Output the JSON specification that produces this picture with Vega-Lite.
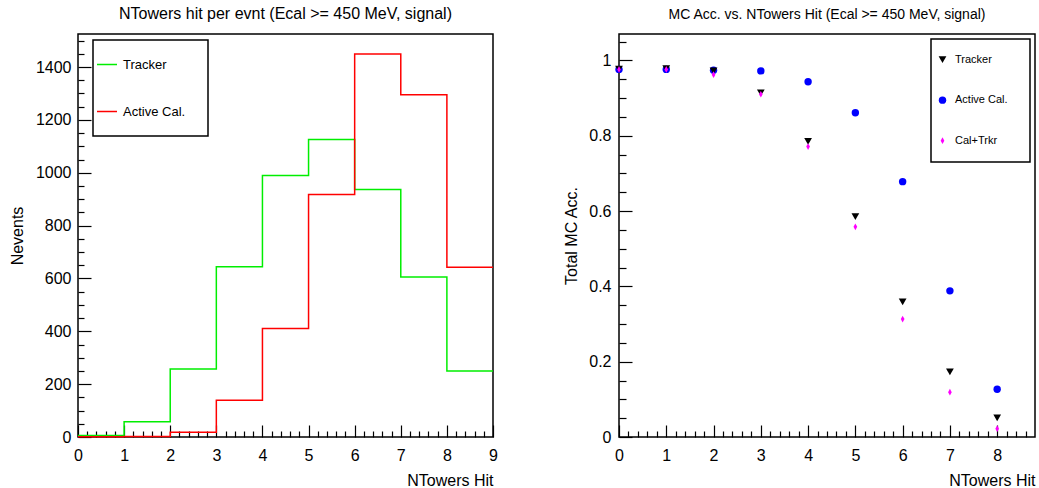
{
  "$schema": "https://vega.github.io/schema/vega-lite/v6.json",
  "padding": {"left": 8, "top": 5, "right": 2, "bottom": 2},
  "spacing": 64,
  "background": "white",
  "config": {
    "font": "Liberation Sans",
    "view": {"stroke": "black", "strokeWidth": 1.5},
    "axis": {"grid": false, "domain": false, "ticks": true, "tickColor": "#000000", "tickWidth": 1.2, "tickOpacity": 1, "labelColor": "black", "labelFontSize": 16, "labelFont": "Liberation Sans", "titleFont": "Liberation Sans", "titleFontSize": 16, "titleFontWeight": "normal", "titleColor": "black", "labelFlush": false, "labelOverlap": false, "zindex": 1},
    "legend": {"strokeColor": "black", "strokeWidth": 1.5, "fillColor": "white", "labelColor": "black", "labelFont": "Liberation Sans"},
    "title": {"font": "Liberation Sans", "fontWeight": "normal", "color": "black", "anchor": "middle", "frame": "group"}
  },
  "resolve": {"scale": {"color": "independent", "shape": "independent", "size": "independent"}, "legend": {"color": "independent"}},
  "hconcat": [
    {
      "width": 415,
      "height": 403,
      "title": {"text": "NTowers hit per evnt (Ecal >= 450 MeV, signal)", "fontSize": 16, "offset": 12},
      "data": {"values": [
        {"series": "Tracker", "bin": 0, "count": 6},
        {"series": "Tracker", "bin": 1, "count": 58},
        {"series": "Tracker", "bin": 2, "count": 257},
        {"series": "Tracker", "bin": 3, "count": 644},
        {"series": "Tracker", "bin": 4, "count": 990},
        {"series": "Tracker", "bin": 5, "count": 1126},
        {"series": "Tracker", "bin": 6, "count": 937},
        {"series": "Tracker", "bin": 7, "count": 605},
        {"series": "Tracker", "bin": 8, "count": 250},
        {"series": "Tracker", "bin": 9, "count": 250},
        {"series": "Active Cal.", "bin": 0, "count": 1},
        {"series": "Active Cal.", "bin": 1, "count": 2},
        {"series": "Active Cal.", "bin": 2, "count": 18},
        {"series": "Active Cal.", "bin": 3, "count": 139},
        {"series": "Active Cal.", "bin": 4, "count": 411},
        {"series": "Active Cal.", "bin": 5, "count": 918},
        {"series": "Active Cal.", "bin": 6, "count": 1449},
        {"series": "Active Cal.", "bin": 7, "count": 1295},
        {"series": "Active Cal.", "bin": 8, "count": 642},
        {"series": "Active Cal.", "bin": 9, "count": 642}
      ]},
      "resolve": {"axis": {"x": "independent", "y": "independent"}},
      "layer": [
        {
          "mark": {"type": "line", "interpolate": "step-after", "strokeWidth": 1.5},
          "encoding": {
            "x": {"field": "bin", "type": "quantitative", "scale": {"domain": [0, 9], "nice": false, "zero": false},
              "axis": {"orient": "bottom", "title": "NTowers Hit", "titleAnchor": "end", "titlePadding": 9, "ticks": true,
                "values": [0,1,2,3,4,5,6,7,8,9], "format": "d", "offset": -12, "tickSize": 12, "labelPadding": 10}},
            "y": {"field": "count", "type": "quantitative", "scale": {"domain": [0, 1525], "nice": false},
              "axis": {"orient": "left", "title": "Nevents", "titlePadding": 10, "ticks": true,
                "values": [0,200,400,600,800,1000,1200,1400], "format": "d", "offset": -13, "tickSize": 13, "labelPadding": 7}},
            "color": {"field": "series", "type": "nominal",
              "scale": {"domain": ["Tracker", "Active Cal."], "range": ["#00ee00", "#ff0000"]},
              "legend": {"title": null, "orient": "none", "legendX": 15, "legendY": 6, "padding": 1, "clipHeight": 47, "rowPadding": 0,
                "symbolType": "stroke", "symbolSize": 400, "symbolStrokeWidth": 1.5, "symbolOffset": 2, "labelOffset": 5, "labelFontSize": 13,
                "labelExpr": "datum.label + '\u00a0\u00a0\u00a0\u00a0\u00a0\u00a0\u200b'"}}
          }
        },
        {
          "mark": {"type": "point", "opacity": 0},
          "encoding": {
            "x": {"field": "bin", "type": "quantitative", "scale": {"domain": [0, 9], "nice": false, "zero": false},
              "axis": {"orient": "bottom", "title": null, "labels": false, "ticks": true, "offset": -6, "tickSize": 6,
                "values": [0.2,0.4,0.6,0.8,1.2,1.4,1.6,1.8,2.2,2.4,2.6,2.8,3.2,3.4,3.6,3.8,4.2,4.4,4.6,4.8,5.2,5.4,5.6,5.8,6.2,6.4,6.6,6.8,7.2,7.4,7.6,7.8,8.2,8.4,8.6,8.8]}},
            "y": {"field": "count", "type": "quantitative", "scale": {"domain": [0, 1525], "nice": false},
              "axis": {"orient": "left", "title": null, "labels": false, "ticks": true, "offset": -6, "tickSize": 6,
                "values": [50,100,150,250,300,350,450,500,550,650,700,750,850,900,950,1050,1100,1150,1250,1300,1350,1450,1500]}}
          }
        }
      ]
    },
    {
      "width": 416,
      "height": 403,
      "title": {"text": "MC Acc. vs. NTowers Hit (Ecal >= 450 MeV, signal)", "fontSize": 14, "offset": 12},
      "data": {"values": [
        {"series": "Active Cal.", "n": 0, "acc": 0.976},
        {"series": "Active Cal.", "n": 1, "acc": 0.976},
        {"series": "Active Cal.", "n": 2, "acc": 0.974},
        {"series": "Active Cal.", "n": 3, "acc": 0.972},
        {"series": "Active Cal.", "n": 4, "acc": 0.943},
        {"series": "Active Cal.", "n": 5, "acc": 0.861},
        {"series": "Active Cal.", "n": 6, "acc": 0.678},
        {"series": "Active Cal.", "n": 7, "acc": 0.388},
        {"series": "Active Cal.", "n": 8, "acc": 0.127},
        {"series": "Tracker", "n": 0, "acc": 0.977},
        {"series": "Tracker", "n": 1, "acc": 0.978},
        {"series": "Tracker", "n": 2, "acc": 0.972},
        {"series": "Tracker", "n": 3, "acc": 0.914},
        {"series": "Tracker", "n": 4, "acc": 0.785},
        {"series": "Tracker", "n": 5, "acc": 0.585},
        {"series": "Tracker", "n": 6, "acc": 0.359},
        {"series": "Tracker", "n": 7, "acc": 0.173},
        {"series": "Tracker", "n": 8, "acc": 0.051},
        {"series": "Cal+Trkr", "n": 0, "acc": 0.976},
        {"series": "Cal+Trkr", "n": 1, "acc": 0.976},
        {"series": "Cal+Trkr", "n": 2, "acc": 0.962},
        {"series": "Cal+Trkr", "n": 3, "acc": 0.910},
        {"series": "Cal+Trkr", "n": 4, "acc": 0.771},
        {"series": "Cal+Trkr", "n": 5, "acc": 0.558},
        {"series": "Cal+Trkr", "n": 6, "acc": 0.313},
        {"series": "Cal+Trkr", "n": 7, "acc": 0.119},
        {"series": "Cal+Trkr", "n": 8, "acc": 0.022}
      ]},
      "resolve": {"axis": {"x": "independent", "y": "independent"}},
      "layer": [
        {
          "mark": {"type": "point", "filled": true, "opacity": 1, "strokeWidth": 0},
          "encoding": {
            "x": {"field": "n", "type": "quantitative", "scale": {"domain": [0, 8.8], "nice": false, "zero": false},
              "axis": {"orient": "bottom", "title": "NTowers Hit", "titleAnchor": "end", "titlePadding": 9, "ticks": true,
                "values": [0,1,2,3,4,5,6,7,8], "format": "d", "offset": -12, "tickSize": 12, "labelPadding": 10}},
            "y": {"field": "acc", "type": "quantitative", "scale": {"domain": [0, 1.07], "nice": false},
              "axis": {"orient": "left", "title": "Total MC Acc.", "titlePadding": 9, "ticks": true,
                "values": [0,0.2,0.4,0.6,0.8,1], "format": ".1~f", "offset": -13, "tickSize": 13, "labelPadding": 8}},
            "color": {"field": "series", "type": "nominal",
              "scale": {"domain": ["Tracker", "Active Cal.", "Cal+Trkr"], "range": ["#000000", "#0000ff", "#ff00ff"]},
              "legend": {"title": null, "orient": "none", "legendX": 312, "legendY": 5, "padding": 1, "clipHeight": 39.3, "rowPadding": 0.5,
                "symbolOffset": 5, "labelOffset": 7, "labelFontSize": 11,
                "labelExpr": "datum.label + '\u00a0\u00a0\u00a0\u00a0\u00a0\u00a0\u00a0\u200b'"}},
            "shape": {"field": "series", "type": "nominal",
              "scale": {"domain": ["Tracker", "Active Cal.", "Cal+Trkr"], "range": ["triangle-down", "circle", "M0,-1L0.55,0L0,1L-0.55,0Z"]},
              "legend": {"title": null, "orient": "none", "legendX": 312, "legendY": 5, "padding": 1, "clipHeight": 39.3, "rowPadding": 0.5,
                "symbolOffset": 5, "labelOffset": 7, "labelFontSize": 11,
                "labelExpr": "datum.label + '\u00a0\u00a0\u00a0\u00a0\u00a0\u00a0\u00a0\u200b'"}},
            "size": {"field": "series", "type": "nominal",
              "scale": {"type": "ordinal", "domain": ["Tracker", "Active Cal.", "Cal+Trkr"], "range": [60, 55, 45]},
              "legend": {"title": null, "orient": "none", "legendX": 312, "legendY": 5, "padding": 1, "clipHeight": 39.3, "rowPadding": 0.5,
                "symbolOffset": 5, "labelOffset": 7, "labelFontSize": 11,
                "labelExpr": "datum.label + '\u00a0\u00a0\u00a0\u00a0\u00a0\u00a0\u00a0\u200b'"}}
          }
        },
        {
          "mark": {"type": "point", "opacity": 0},
          "encoding": {
            "x": {"field": "n", "type": "quantitative", "scale": {"domain": [0, 8.8], "nice": false, "zero": false},
              "axis": {"orient": "bottom", "title": null, "labels": false, "ticks": true, "offset": -6, "tickSize": 6,
                "values": [0.2,0.4,0.6,0.8,1.2,1.4,1.6,1.8,2.2,2.4,2.6,2.8,3.2,3.4,3.6,3.8,4.2,4.4,4.6,4.8,5.2,5.4,5.6,5.8,6.2,6.4,6.6,6.8,7.2,7.4,7.6,7.8,8.2,8.4,8.6]}},
            "y": {"field": "acc", "type": "quantitative", "scale": {"domain": [0, 1.07], "nice": false},
              "axis": {"orient": "left", "title": null, "labels": false, "ticks": true, "offset": -7, "tickSize": 7,
                "values": [0.05,0.1,0.15,0.25,0.3,0.35,0.45,0.5,0.55,0.65,0.7,0.75,0.85,0.9,0.95,1.05]}}
          }
        }
      ]
    }
  ]
}
